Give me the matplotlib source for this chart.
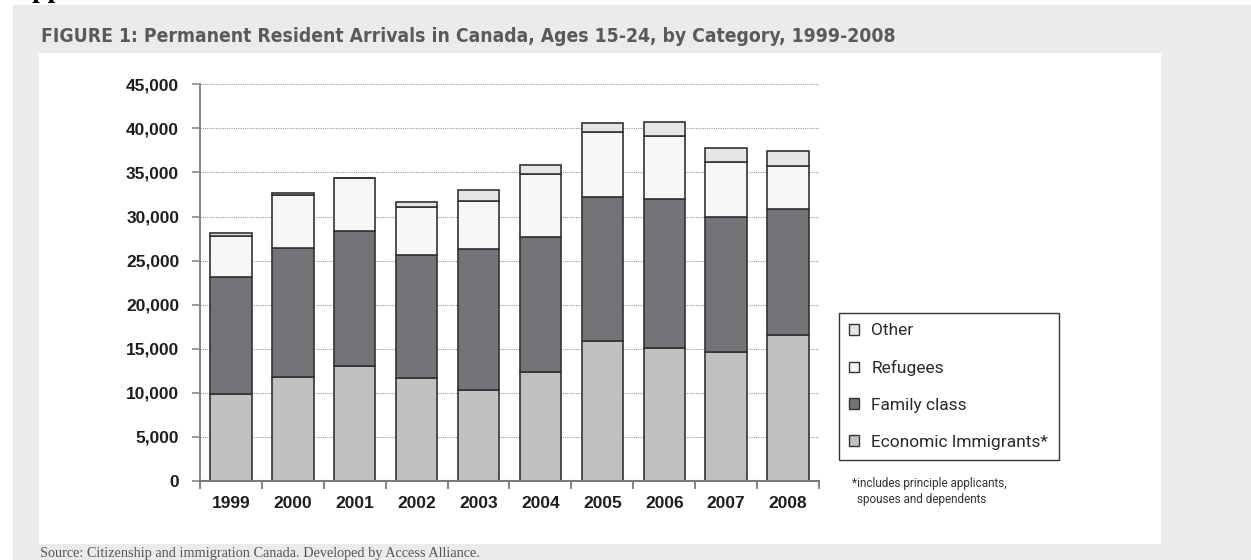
import numpy as np
import matplotlib
matplotlib.use('Agg')
import matplotlib.pyplot as plt
from matplotlib.patches import Patch, Rectangle
from matplotlib import font_manager

years = ['1999', '2000', '2001', '2002', '2003', '2004', '2005', '2006', '2007', '2008']
economic = [9870, 11760, 13090, 11650, 10330, 12370, 15920, 15130, 14600, 16570]
family = [13310, 14640, 15280, 13990, 15960, 15350, 16340, 16900, 15350, 14290]
refugees = [4660, 6090, 5970, 5410, 5440, 7150, 7300, 7080, 6210, 4920]
other = [300, 190, 60, 570, 1330, 1020, 1020, 1590, 1660, 1700]
categories = ['Economic Immigrants*', 'Family class', 'Refugees', 'Other']
colors = ['#c0c1c3', '#737478', '#f7f7f7', '#e4e5e7']
yticks = np.arange(0, 45001, 5000)

W, H = 1251, 560
fig = plt.figure(figsize=(W / 100, H / 100), dpi=100)
fig.patch.set_facecolor('white')

# grey page panel and the white chart card
fig.add_artist(Rectangle((13 / W, 0), 1, 1 - 5 / H, transform=fig.transFigure,
                         facecolor='#ebebeb', edgecolor='none', zorder=-3))
fig.add_artist(Rectangle((39 / W, 1 - 544 / H), (1161 - 39) / W, (544 - 53) / H,
                         transform=fig.transFigure, facecolor='white',
                         edgecolor='none', zorder=-2))

installed = {f.name for f in font_manager.fontManager.ttflist}
if 'Liberation Sans Narrow' in installed:
    title_font = dict(family='Liberation Sans Narrow')
else:
    title_font = dict(family='DejaVu Sans', stretch='condensed')

ax = fig.add_axes([200 / W, 1 - 481 / H, 619 / W, (481 - 84.3) / H])
ax.set_facecolor('none')

x = np.arange(len(years))
bottom = np.zeros(len(years))
series = [economic, family, refugees, other]
for vals, c, name in zip(series, colors, categories):
    ax.bar(x, vals, width=0.67, bottom=bottom, color=c, edgecolor='#333333',
           linewidth=1.2, label=name, zorder=3)
    bottom = bottom + np.array(vals)

ax.set_xlim(-0.5, len(years) - 0.5)
ax.set_ylim(0, 45000)
ax.set_yticks(yticks)
ax.set_yticklabels([f'{v:,}' for v in yticks])
ax.set_xticks(x)
ax.set_xticklabels(years)
ax.set_xticks(np.arange(-0.5, len(years)), minor=True)

for s in ['top', 'right']:
    ax.spines[s].set_visible(False)
ax.spines['left'].set_color('#8a8a8a')
ax.spines['left'].set_linewidth(1.5)
ax.spines['bottom'].set_color('#7a7a7a')
ax.spines['bottom'].set_linewidth(1.5)
ax.spines['bottom'].set_zorder(4)

ax.yaxis.grid(True, linestyle=(0, (1, 1)), color='#9a9a9a', linewidth=0.8, zorder=0)
ax.set_axisbelow(True)

ax.tick_params(axis='y', direction='out', length=6, width=1.2, color='#8a8a8a',
               pad=9, labelsize=12.5, labelcolor='#1e1e1e')
ax.tick_params(axis='x', which='major', length=0, pad=11, labelsize=12.5,
               labelcolor='#1e1e1e')
ax.tick_params(axis='x', which='minor', direction='out', length=6, width=1.3,
               color='#7a7a7a')
for lab in ax.get_xticklabels() + ax.get_yticklabels():
    lab.set_fontfamily('Liberation Sans')
    lab.set_fontweight('bold')

handles = [Patch(facecolor=c, edgecolor='#333333', linewidth=1, label=n)
           for c, n in zip(colors, categories)][::-1]
leg = fig.legend(handles=handles, loc='upper left',
                 bbox_to_anchor=(839 / W, 1 - 313 / H), bbox_transform=fig.transFigure,
                 borderaxespad=0, frameon=True, fancybox=False, framealpha=1,
                 edgecolor='#333333', borderpad=0.6, labelspacing=1.25,
                 handlelength=0.57, handleheight=0.57, handletextpad=0.7,
                 prop=dict(family='Roboto', weight='normal', size=12.5))
leg.get_frame().set_linewidth(1.0)
for t in leg.get_texts():
    t.set_color('#2a2a2a')

fig.text(852 / W, 1 - 484 / H, '*includes principle applicants,', fontsize=8.5,
         family='Roboto', color='#333333', va='center')
fig.text(857 / W, 1 - 499 / H, 'spouses and dependents', fontsize=8.5,
         family='Roboto', color='#333333', va='center')

title = fig.text(41 / W, 1 - 42 / H,
                 'FIGURE 1: Permanent Resident Arrivals in Canada, Ages 15-24, by Category, 1999-2008',
                 fontsize=18, fontweight='bold', color='#5a5a5e', va='baseline', **title_font)
source = fig.text(40 / W, 3.5 / H,
                  'Source: Citizenship and immigration Canada. Developed by Access Alliance.',
                  fontsize=10, family='Liberation Serif', color='#555555', va='baseline')
fig.text(13 / W, 1 + 3 / H, 'Appendix', fontsize=20, fontweight='bold',
         family='Liberation Serif', color='black', va='baseline')

# fit title and source widths to the original
fig.canvas.draw()
r = fig.canvas.get_renderer()
for t, target in [(title, 853), (source, 443)]:
    w = t.get_window_extent(r).width
    t.set_fontsize(t.get_fontsize() * target / w)

fig.savefig('out.png', dpi=100)
